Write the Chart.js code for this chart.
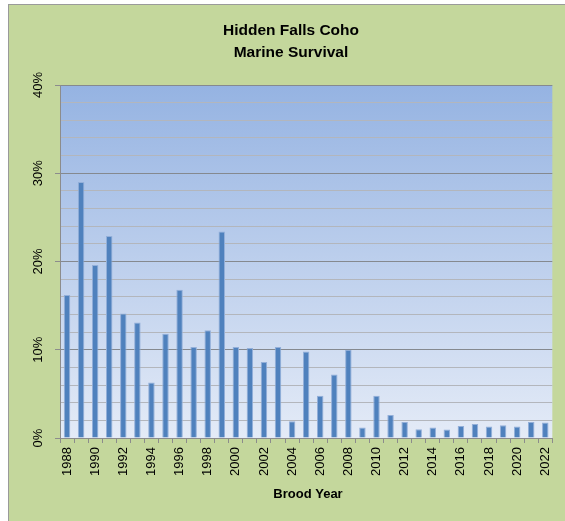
<!DOCTYPE html>
<html>
<head>
<meta charset="utf-8">
<script src="https://cdn.jsdelivr.net/npm/chart.js@4"></script>
<style>
  html, body { margin: 0; padding: 0; background: #ffffff; }
  canvas { display: block; }
</style>
</head>
<body>
<canvas id="c" width="565" height="521"></canvas>
<script>
// ---- data ----
const broodYears = ['1988','1989','1990','1991','1992','1993','1994','1995','1996','1997',
  '1998','1999','2000','2001','2002','2003','2004','2005','2006','2007','2008','2009',
  '2010','2011','2012','2013','2014','2015','2016','2017','2018','2019','2020','2021','2022'];
const marineSurvival = [16.2, 29.0, 19.6, 22.9, 14.1, 13.1, 6.3, 11.8, 16.8, 10.3,
  12.2, 23.4, 10.3, 10.2, 8.6, 10.3, 1.9, 9.8, 4.8, 7.2, 10.0, 1.2,
  4.8, 2.6, 1.8, 1.0, 1.2, 0.95, 1.35, 1.6, 1.3, 1.45, 1.3, 1.8, 1.75];
const yTickLabels = ['0%', '10%', '20%', '30%', '40%'];
const titleLines = ['Hidden Falls Coho', 'Marine Survival'];
const xAxisTitle = 'Brood Year';

const FONT = "'Liberation Sans', Arial, sans-serif";

const framePlugin = {
  id: 'frame',
  beforeDraw(chart) {
    const ctx = chart.ctx;
    ctx.save();
    ctx.fillStyle = '#ffffff';
    ctx.fillRect(0, 0, chart.width, chart.height);
    ctx.fillStyle = '#c4d79c';
    ctx.fillRect(8, 4, chart.width - 8, chart.height - 4);
    ctx.strokeStyle = '#9a9a9a';
    ctx.lineWidth = 1;
    ctx.strokeRect(8.5, 4.5, chart.width, chart.height);
    const a = chart.chartArea;
    const g = ctx.createLinearGradient(0, a.top, 0, a.bottom);
    g.addColorStop(0, '#95b3e2');
    g.addColorStop(1, '#e4ebf7');
    ctx.fillStyle = g;
    ctx.fillRect(a.left, a.top, a.right - a.left, a.bottom - a.top);
    ctx.restore();
  },
  afterDraw(chart) {
    const ctx = chart.ctx;
    const ys = chart.scales.y;
    ctx.save();
    ctx.fillStyle = '#000000';
    ctx.textAlign = 'center';
    ctx.textBaseline = 'middle';
    // rotated y tick labels
    ctx.font = '13px ' + FONT;
    yTickLabels.forEach((lab, i) => {
      const py = ys.getPixelForValue(i * 10);
      ctx.save();
      ctx.translate(38, py);
      ctx.rotate(-Math.PI / 2);
      ctx.fillText(lab, 0, 0);
      ctx.restore();
    });
    // chart title
    ctx.textBaseline = 'alphabetic';
    ctx.font = 'bold 15.5px ' + FONT;
    ctx.fillText(titleLines[0], 291, 35);
    ctx.fillText(titleLines[1], 291, 57);
    // x axis title
    ctx.font = 'bold 13px ' + FONT;
    ctx.fillText(xAxisTitle, 308, 498);
    ctx.restore();
  }
};

new Chart(document.getElementById('c'), {
  type: 'bar',
  data: {
    labels: broodYears,
    datasets: [{
      data: marineSurvival,
      backgroundColor: '#4f81bd',
      borderColor: '#93afd9',
      borderWidth: 1,
      barPercentage: 0.46,
      categoryPercentage: 1.0
    }]
  },
  options: {
    responsive: false,
    animation: false,
    layout: { padding: { left: 8, right: 8, top: 85, bottom: 0 } },
    plugins: {
      legend: { display: false },
      tooltip: { enabled: false },
      title: { display: false }
    },
    scales: {
      x: {
        grid: {
          offset: true,
          drawOnChartArea: false,
          drawTicks: true,
          tickLength: 5,
          tickColor: '#8c8c8c'
        },
        border: { color: '#8c8c8c' },
        ticks: {
          autoSkip: false,
          minRotation: 90,
          maxRotation: 90,
          padding: 4,
          color: '#000000',
          font: { family: FONT, size: 13 },
          callback: (v, i) => (i % 2 === 0 ? broodYears[i] : '')
        },
        afterFit(scale) { scale.height = 83; }
      },
      y: {
        min: 0,
        max: 40,
        ticks: { stepSize: 2, display: false },
        grid: {
          color: (c) => (c.tick && c.tick.value % 10 === 0 ? '#85898f' : '#b3b6bc'),
          lineWidth: 1,
          drawTicks: true,
          tickLength: 5,
          tickColor: (c) => (c.tick && c.tick.value % 10 === 0 ? '#8c8c8c' : 'rgba(0,0,0,0)')
        },
        border: { color: '#8c8c8c' },
        afterFit(scale) { scale.width = 52; }
      }
    }
  },
  plugins: [framePlugin]
});
</script>
</body>
</html>
